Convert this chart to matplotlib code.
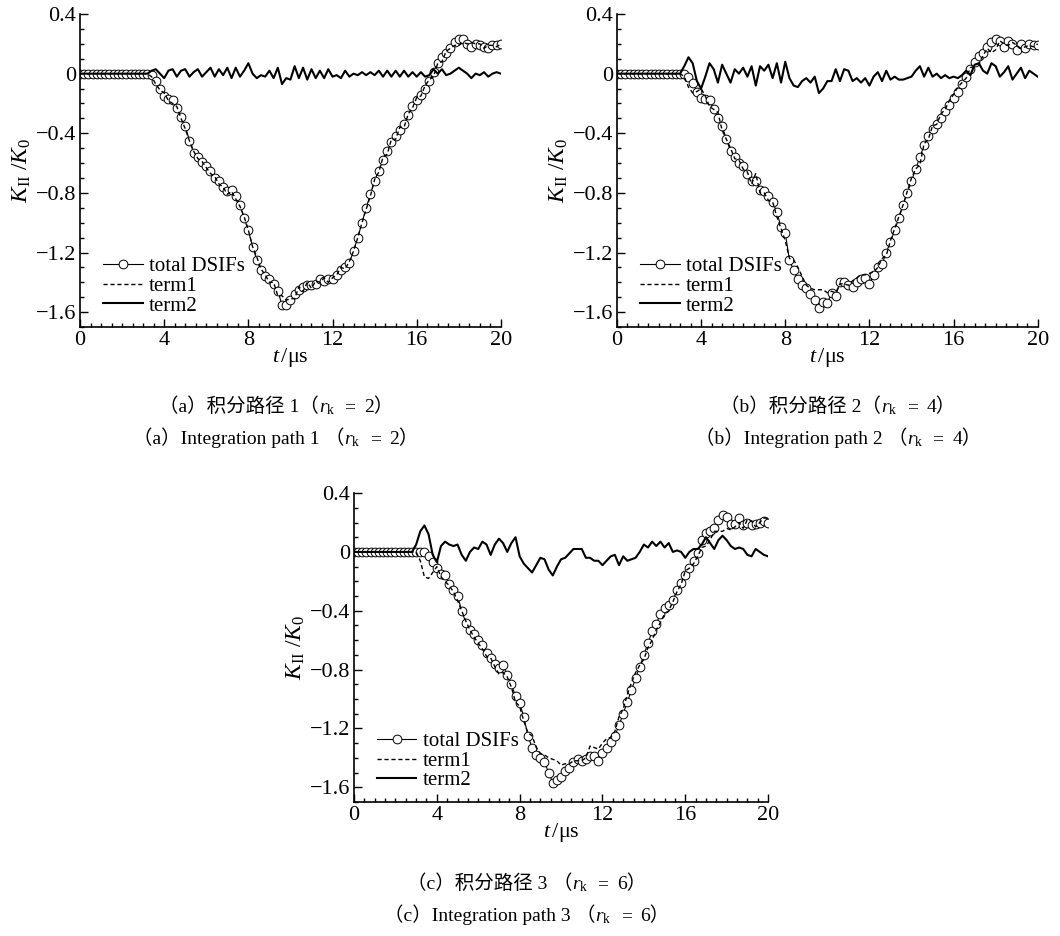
# coding=utf-8
import numpy as np
import matplotlib
matplotlib.use('Agg')
import matplotlib.pyplot as plt
from matplotlib.ticker import MultipleLocator, FuncFormatter

plt.rcParams['font.family'] = ['Liberation Serif', 'Noto Sans CJK SC', 'DejaVu Sans']
plt.rcParams['mathtext.fontset'] = 'custom'
plt.rcParams['mathtext.rm'] = 'Liberation Serif'
plt.rcParams['mathtext.it'] = 'Liberation Serif:italic'

# time grid, 0.2 us step (101 samples)
t = np.round(np.arange(101) * 0.2, 1)

# ---- path 1 (r_k = 2) ----
total_a = [0, 0, 0, 0, 0, 0, 0, 0, 0, 0,
           0, 0, 0, 0, 0, 0, 0, -0.01, -0.05, -0.10,
           -0.15, -0.17, -0.18, -0.23, -0.29, -0.35, -0.45, -0.53, -0.56, -0.59,
           -0.62, -0.65, -0.70, -0.72, -0.76, -0.79, -0.78, -0.82, -0.88, -0.97,
           -1.05, -1.16, -1.25, -1.32, -1.36, -1.38, -1.41, -1.46, -1.55, -1.55,
           -1.52, -1.48, -1.45, -1.43, -1.42, -1.42, -1.41, -1.38, -1.39, -1.38,
           -1.38, -1.35, -1.32, -1.30, -1.27, -1.19, -1.10, -1.00, -0.90, -0.81,
           -0.72, -0.65, -0.58, -0.52, -0.46, -0.42, -0.38, -0.34, -0.28, -0.22,
           -0.18, -0.14, -0.10, -0.05, 0.01, 0.07, 0.11, 0.14, 0.17, 0.21,
           0.23, 0.23, 0.20, 0.18, 0.20, 0.19, 0.18, 0.17, 0.19, 0.19,
           0.20]
term1_a = [0, 0, 0, 0, 0, 0, 0, 0, 0, 0,
           0, 0, 0, 0, 0, 0, 0, -0.02, -0.07, -0.11,
           -0.13, -0.18, -0.20, -0.22, -0.30, -0.37, -0.45, -0.52, -0.57, -0.59,
           -0.63, -0.67, -0.69, -0.74, -0.76, -0.81, -0.79, -0.84, -0.89, -0.96,
           -1.05, -1.16, -1.23, -1.31, -1.35, -1.40, -1.40, -1.49, -1.49, -1.52,
           -1.51, -1.51, -1.43, -1.46, -1.40, -1.44, -1.39, -1.40, -1.37, -1.40,
           -1.37, -1.35, -1.30, -1.31, -1.26, -1.19, -1.10, -1.00, -0.91, -0.82,
           -0.71, -0.66, -0.56, -0.54, -0.44, -0.44, -0.36, -0.36, -0.27, -0.23,
           -0.16, -0.15, -0.08, -0.04, -0.02, 0.07, 0.08, 0.15, 0.17, 0.19,
           0.19, 0.21, 0.20, 0.21, 0.20, 0.20, 0.17, 0.19, 0.19, 0.18,
           0.20]
term2_a = [0, 0, 0, 0, 0, 0, 0, 0, 0, 0,
           0, 0, 0, 0, 0, 0, 0, 0.02, 0.03, 0.00,
           -0.03, 0.02, 0.03, -0.02, 0.02, 0.03, -0.02, 0.01, 0.03, -0.02,
           0.01, 0.04, -0.02, 0.03, -0.01, 0.04, -0.03, 0.04, -0.02, 0.02,
           0.07, 0.00, -0.03, -0.01, -0.02, 0.02, -0.03, 0.04, -0.07, -0.03,
           -0.04, 0.05, -0.03, 0.04, -0.04, 0.03, -0.03, 0.02, -0.03, 0.03,
           -0.02, -0.01, -0.03, 0.02, -0.02, 0.00, -0.01, 0.01, -0.01, 0.01,
           -0.01, 0.02, -0.02, 0.02, -0.02, 0.02, -0.02, 0.02, -0.02, 0.01,
           -0.02, 0.01, -0.02, -0.01, 0.03, 0.00, 0.03, -0.01, 0.00, 0.02,
           0.04, 0.02, 0.00, -0.03, 0.00, -0.01, 0.01, -0.02, 0.00, 0.01,
           0.00]

# ---- path 2 (r_k = 4) ----
total_b = [0, 0, 0, 0, 0, 0, 0, 0, 0, 0,
           0, 0, 0, 0, 0, 0, 0.0, -0.02, -0.06, -0.12,
           -0.16, -0.17, -0.18, -0.24, -0.30, -0.35, -0.44, -0.52, -0.56, -0.60,
           -0.62, -0.67, -0.72, -0.72, -0.78, -0.79, -0.82, -0.86, -0.93, -1.03,
           -1.07, -1.25, -1.32, -1.38, -1.42, -1.44, -1.48, -1.52, -1.57, -1.53,
           -1.54, -1.47, -1.49, -1.40, -1.40, -1.42, -1.43, -1.40, -1.38, -1.37,
           -1.41, -1.35, -1.30, -1.28, -1.20, -1.13, -1.05, -0.97, -0.88, -0.80,
           -0.72, -0.64, -0.56, -0.48, -0.42, -0.37, -0.34, -0.30, -0.25, -0.21,
           -0.16, -0.12, -0.07, -0.02, 0.03, 0.08, 0.12, 0.14, 0.18, 0.21,
           0.23, 0.22, 0.18, 0.22, 0.20, 0.16, 0.20, 0.17, 0.20, 0.19,
           0.19]
term1_b = [0, 0, 0, 0, 0, 0, 0, 0, 0, 0,
           0, 0, 0, 0, 0, 0, -0.02, -0.09, -0.13, -0.12,
           -0.10, -0.15, -0.22, -0.24, -0.26, -0.38, -0.44, -0.50, -0.57, -0.58,
           -0.64, -0.66, -0.74, -0.67, -0.80, -0.80, -0.85, -0.86, -0.96, -1.04,
           -1.12, -1.24, -1.25, -1.30, -1.36, -1.42, -1.44, -1.45, -1.45, -1.45,
           -1.47, -1.46, -1.47, -1.41, -1.41, -1.42, -1.39, -1.37, -1.35, -1.35,
           -1.34, -1.33, -1.30, -1.24, -1.22, -1.12, -1.04, -0.96, -0.88, -0.79,
           -0.70, -0.64, -0.61, -0.47, -0.44, -0.35, -0.34, -0.27, -0.24, -0.18,
           -0.14, -0.09, -0.06, -0.03, 0.04, 0.05, 0.07, 0.12, 0.17, 0.14,
           0.16, 0.22, 0.20, 0.19, 0.21, 0.19, 0.17, 0.18, 0.19, 0.18,
           0.20]
term2_b = [0, 0, 0, 0, 0, 0, 0, 0, 0, 0,
           0, 0, 0, 0, 0, 0.00, 0.05, 0.11, 0.07, -0.05,
           -0.10, -0.02, 0.07, 0.03, -0.06, 0.06, 0.00, -0.06, 0.03, 0.00,
           0.04, -0.02, 0.05, -0.08, 0.05, 0.02, 0.06, -0.03, 0.07, -0.06,
           0.08, -0.03, -0.08, -0.09, -0.05, -0.03, -0.06, -0.02, -0.13, -0.10,
           -0.05, -0.05, 0.03, -0.05, 0.03, 0.02, -0.05, -0.03, -0.06, -0.03,
           -0.08, -0.02, 0.01, -0.05, 0.02, -0.04, -0.02, -0.04, -0.04, -0.03,
           -0.02, 0.02, 0.05, -0.02, 0.04, -0.02, 0.00, -0.03, -0.01, -0.03,
           -0.02, -0.03, -0.01, 0.02, -0.01, 0.06, 0.07, 0.02, 0.00, 0.07,
           0.05, -0.02, 0.01, 0.05, -0.04, 0.00, 0.04, -0.03, 0.02, 0.00,
           -0.02]

# ---- path 3 (r_k = 6) ----
total_c = [0, 0, 0, 0, 0, 0, 0, 0, 0, 0,
           0, 0, 0, 0, 0, 0, 0, 0, -0.03, -0.07,
           -0.11, -0.15, -0.16, -0.22, -0.26, -0.30, -0.40, -0.48, -0.53, -0.56,
           -0.60, -0.63, -0.69, -0.72, -0.76, -0.79, -0.77, -0.84, -0.90, -0.98,
           -1.03, -1.12, -1.25, -1.33, -1.38, -1.40, -1.43, -1.50, -1.57, -1.55,
           -1.53, -1.49, -1.47, -1.43, -1.41, -1.42, -1.41, -1.39, -1.39, -1.42,
           -1.37, -1.33, -1.29, -1.25, -1.18, -1.10, -1.02, -0.94, -0.86, -0.78,
           -0.70, -0.62, -0.54, -0.49, -0.42, -0.38, -0.36, -0.33, -0.26, -0.21,
           -0.16, -0.11, -0.06, -0.01, 0.08, 0.13, 0.14, 0.16, 0.22, 0.25,
           0.24, 0.19, 0.19, 0.23, 0.18, 0.20, 0.18, 0.19, 0.20, 0.21,
           0.20]
term1_c = [0, 0, 0, 0, 0, 0, 0, 0, 0, 0,
           0, 0, 0, 0, 0, 0, -0.06, -0.17, -0.18, -0.14,
           -0.10, -0.17, -0.20, -0.23, -0.27, -0.33, -0.40, -0.47, -0.53, -0.58,
           -0.62, -0.66, -0.71, -0.72, -0.78, -0.83, -0.82, -0.85, -0.92, -1.02,
           -1.05, -1.15, -1.23, -1.25, -1.33, -1.37, -1.38, -1.40, -1.41, -1.42,
           -1.45, -1.44, -1.44, -1.42, -1.42, -1.42, -1.40, -1.32, -1.33, -1.34,
           -1.30, -1.27, -1.26, -1.22, -1.12, -1.07, -0.97, -0.89, -0.82, -0.77,
           -0.73, -0.65, -0.60, -0.53, -0.48, -0.42, -0.40, -0.34, -0.27, -0.22,
           -0.13, -0.11, -0.08, -0.03, 0.03, 0.04, 0.08, 0.14, 0.14, 0.14,
           0.16, 0.15, 0.17, 0.20, 0.16, 0.22, 0.21, 0.17, 0.20, 0.23,
           0.23]
term2_c = [0, 0, 0, 0, 0, 0, 0, 0, 0, 0,
           0, 0, 0, 0, 0, 0.05, 0.14, 0.18, 0.12, -0.02,
           -0.07, 0.04, 0.07, 0.05, 0.04, 0.05, -0.02, -0.06, 0.00, 0.03,
           0.02, 0.07, 0.05, -0.02, 0.05, 0.09, 0.06, 0.00, 0.06, 0.10,
           -0.03, -0.08, -0.11, -0.14, -0.09, -0.04, -0.05, -0.12, -0.16, -0.10,
           -0.05, -0.04, -0.01, 0.02, 0.02, 0.02, -0.04, -0.04, -0.06, -0.06,
           -0.09, -0.06, -0.03, -0.02, -0.09, -0.03, -0.06, -0.05, -0.04, 0.00,
           0.05, 0.03, 0.07, 0.04, 0.07, 0.03, 0.06, 0.00, 0.01, 0.00,
           -0.04, 0.00, 0.02, 0.02, 0.05, 0.10, 0.06, 0.02, 0.08, 0.11,
           0.08, 0.04, 0.02, 0.03, 0.02, -0.02, -0.03, 0.02, 0.00, -0.02,
           -0.03]

x_ticks = [0, 4, 8, 12, 16, 20]
y_ticks = [0.4, 0, -0.4, -0.8, -1.2, -1.6]
labels = ['total DSIFs', 'term1', 'term2']

# 子图标题: (文字, 前面的空隙 px)
cap_cn = [[('（a）积分路径 1（', 0), ('$r_{\\rm k}$', 0), ('=', 9), ('2）', 9)],
          [('（b）积分路径 2（', 0), ('$r_{\\rm k}$', 0), ('=', 9), ('4）', 9)],
          [('（c）积分路径 3', 0), ('（', 5), ('$r_{\\rm k}$', 0), ('=', 9), ('6）', 9)]]
cap_en = [[('（a）Integration path 1', 0), ('（', 5), ('$r_{\\rm k}$', 0), ('=', 9), ('2）', 9)],
          [('（b）Integration path 2', 0), ('（', 5), ('$r_{\\rm k}$', 0), ('=', 9), ('4）', 9)],
          [('（c）Integration path 3', 0), ('（', 5), ('$r_{\\rm k}$', 0), ('=', 9), ('6）', 9)]]


def fmt(v, pos):
    return ('%g' % v).replace('-', '\u2212')


def draw_panel(ax, total, term1, term2):
    ax.plot(t, total, '-', color='black', lw=0.8, marker='o', ms=6.3,
            mfc='white', mec='black', mew=0.7, label=labels[0])
    ax.plot(t, term1, '--', color='black', lw=1.0, dashes=(3, 2), label=labels[1])
    ax.plot(t, term2, '-', color='black', lw=1.5, label=labels[2])

    ax.set_xlim(0, 20)
    ax.set_ylim(-1.7, 0.4)
    ax.set_xticks(x_ticks)
    ax.set_yticks(y_ticks)
    ax.xaxis.set_minor_locator(MultipleLocator(0.5))
    ax.yaxis.set_minor_locator(MultipleLocator(0.1))
    ax.xaxis.set_major_formatter(FuncFormatter(fmt))
    ax.yaxis.set_major_formatter(FuncFormatter(fmt))
    ax.tick_params(which='both', direction='in', labelsize=16, width=1.0)
    ax.tick_params(which='major', length=6, pad=3)
    ax.tick_params(which='minor', length=3)
    ax.spines['top'].set_visible(False)
    ax.spines['right'].set_visible(False)
    ax.spines['left'].set_linewidth(1.2)
    ax.spines['bottom'].set_linewidth(1.2)

    ax.set_xlabel('$t\\,$/μs', fontsize=16, labelpad=-3)
    ax.set_ylabel('$K_{\\rm II}\\ /K_0$', fontsize=17, labelpad=2)

    ax.legend(loc='lower left', bbox_to_anchor=(0.02, -0.01), frameon=False,
              fontsize=15, handlelength=1.9, handletextpad=0.3,
              labelspacing=0.0, borderpad=0.2)


def caption(cx, cy, parts, size=14):
    # 拼接几段文字, 然后整体居中到 cx (像素)
    renderer = fig.canvas.get_renderer()
    W, H = fig.bbox.width, fig.bbox.height
    items = []
    x = 0
    for s, gap in parts:
        x += gap
        tx = fig.text(x / W, cy / H, s, fontsize=size, ha='left', va='baseline')
        bb = tx.get_window_extent(renderer)
        items.append((tx, x))
        x += bb.width
    shift = cx - x / 2
    for tx, x0 in items:
        tx.set_x((x0 + shift) / W)


fig = plt.figure(figsize=(10.6, 9.36), dpi=100)

ax1 = fig.add_axes([0.0755, 0.6506, 0.397, 0.3344])
ax2 = fig.add_axes([0.582, 0.6506, 0.397, 0.3344])
ax3 = fig.add_axes([0.334, 0.1432, 0.3906, 0.330])

draw_panel(ax1, total_a, term1_a, term2_a)
draw_panel(ax2, total_b, term1_b, term2_b)
draw_panel(ax3, total_c, term1_c, term2_c)

# 标题位置 (像素, 从下往上)
cap_x = [276, 838, 527]
cap_y_cn = [936 - 412, 936 - 412, 936 - 889]
cap_y_en = [936 - 444, 936 - 444, 936 - 921]
for i in range(3):
    caption(cap_x[i], cap_y_cn[i], cap_cn[i])
    caption(cap_x[i], cap_y_en[i], cap_en[i])

plt.savefig('out.png', dpi=100)
